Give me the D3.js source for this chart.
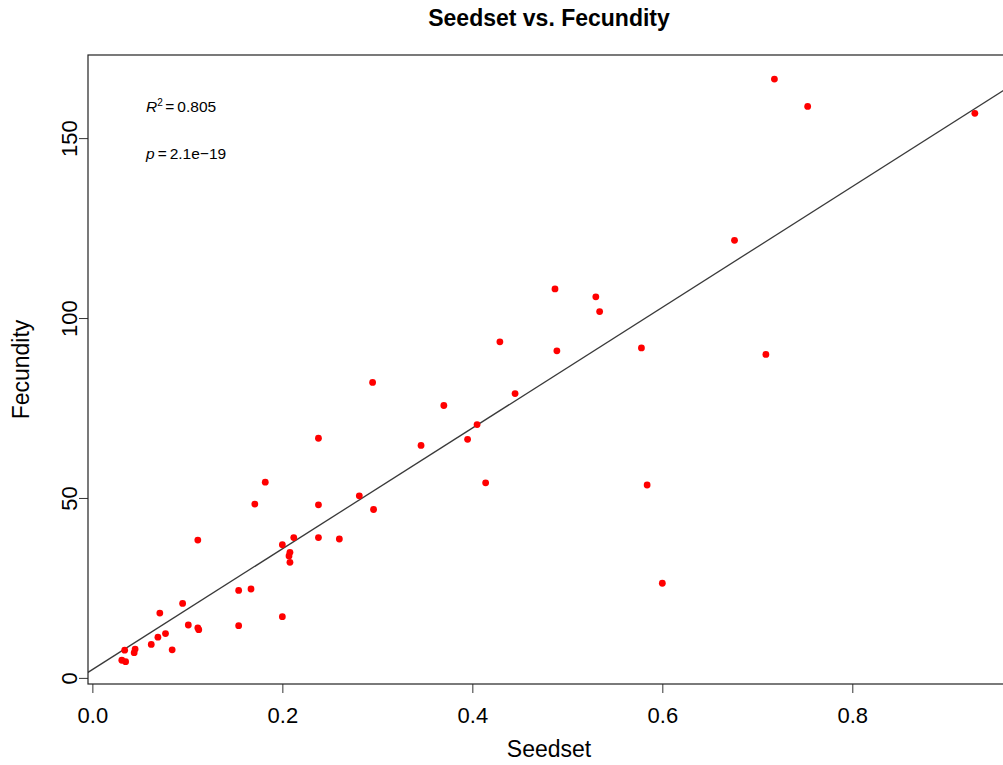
<!DOCTYPE html>
<html>
<head>
<meta charset="utf-8">
<script src="https://cdn.jsdelivr.net/npm/d3@7"></script>
<style>
  body { margin: 0; background: #fff; }
  text { font-family: "Liberation Sans", Arial, Helvetica, sans-serif; }
</style>
</head>
<body>
<div id="chart"></div>
<script>
'use strict';

// Seedset (x) and fecundity (y)
const seedset = [
  0.031, 0.035, 0.034, 0.045, 0.044, 0.062, 0.069, 0.077, 0.084, 0.071,
  0.095, 0.101, 0.111, 0.112, 0.111, 0.154, 0.154, 0.167, 0.171, 0.182,
  0.200, 0.200, 0.208, 0.207, 0.208, 0.212, 0.238, 0.238, 0.238, 0.260,
  0.281, 0.296, 0.295, 0.346, 0.370, 0.395, 0.405, 0.414, 0.429, 0.445,
  0.487, 0.489, 0.530, 0.534, 0.578, 0.584, 0.600, 0.676, 0.709, 0.718,
  0.753, 0.929
];
const fecundity = [
  4.9, 4.5, 7.7, 8.0, 7.0, 9.3, 11.3, 12.3, 7.8, 18.0,
  20.7, 14.7, 13.9, 13.4, 38.3, 14.5, 24.3, 24.7, 48.3, 54.4,
  17.0, 37.0, 34.9, 33.9, 32.1, 39.0, 48.1, 39.0, 66.6, 38.6,
  50.6, 46.8, 82.1, 64.6, 75.7, 66.3, 70.4, 54.2, 93.4, 79.0,
  108.1, 90.9, 105.9, 101.8, 91.7, 53.6, 26.3, 121.6, 89.9, 166.4,
  158.8, 156.9
];

// fitted line and plot limits
const fitIntercept = 2.3;
const fitSlope = 167.8;
const xLim = [-0.0046, 0.966];
const yLim = [-1.7, 173.1];
const xTicks = [0, 0.2, 0.4, 0.6, 0.8];
const yTicks = [0, 50, 100, 150];

const width = 1003;
const height = 765;
const plot = { left: 88, top: 55, right: 1010, bottom: 684 };

const points = seedset.map(function (s, i) {
  return { x: s, y: fecundity[i] };
});

const svg = d3.select("#chart").append("svg")
  .attr("width", width)
  .attr("height", height);

const xScale = d3.scaleLinear()
  .domain(xLim)
  .range([plot.left, plot.right]);

const yScale = d3.scaleLinear()
  .domain(yLim)
  .range([plot.bottom, plot.top]);

svg.append("clipPath")
  .attr("id", "plot-clip")
  .append("rect")
  .attr("x", plot.left)
  .attr("y", plot.top)
  .attr("width", plot.right - plot.left)
  .attr("height", plot.bottom - plot.top);

// title
svg.append("text")
  .attr("x", (plot.left + plot.right) / 2)
  .attr("y", 26)
  .attr("text-anchor", "middle")
  .style("font-size", "23px")
  .style("font-weight", "bold")
  .text("Seedset vs. Fecundity");

// axes
const xAxis = d3.axisBottom(xScale)
  .tickValues(xTicks)
  .tickFormat(d3.format(".1f"))
  .tickSize(9)
  .tickPadding(14);

const yAxis = d3.axisLeft(yScale)
  .tickValues(yTicks)
  .tickSize(9);

const gx = svg.append("g")
  .attr("transform", `translate(0, ${plot.bottom})`)
  .call(xAxis);
gx.select(".domain").remove();
gx.selectAll(".tick line").attr("stroke", "#333");
gx.selectAll(".tick text")
  .attr("fill", "#000")
  .style("font-size", "22px")
  .style("font-family", "'Liberation Sans', Arial, sans-serif");

const gy = svg.append("g")
  .attr("transform", `translate(${plot.left}, 0)`)
  .call(yAxis);
gy.select(".domain").remove();
gy.selectAll(".tick line").attr("stroke", "#333");
gy.selectAll(".tick text")
  .attr("fill", "#000")
  .attr("x", null)
  .attr("dy", null)
  .attr("text-anchor", "middle")
  .attr("transform", "translate(-11, 0) rotate(-90)")
  .style("font-size", "22px")
  .style("font-family", "'Liberation Sans', Arial, sans-serif");

// axis titles
svg.append("text")
  .attr("x", (plot.left + plot.right) / 2)
  .attr("y", 757)
  .attr("text-anchor", "middle")
  .style("font-size", "23px")
  .text("Seedset");

svg.append("text")
  .attr("transform", `translate(29, ${(plot.top + plot.bottom) / 2}) rotate(-90)`)
  .attr("text-anchor", "middle")
  .style("font-size", "23px")
  .text("Fecundity");

// regression line
svg.append("line")
  .attr("clip-path", "url(#plot-clip)")
  .attr("x1", xScale(xLim[0]))
  .attr("y1", yScale(fitIntercept + fitSlope * xLim[0]))
  .attr("x2", xScale(xLim[1]))
  .attr("y2", yScale(fitIntercept + fitSlope * xLim[1]))
  .attr("stroke", "#3a3a3a")
  .attr("stroke-width", 1.3);

// points
svg.append("g")
  .selectAll(".dot")
  .data(points)
  .enter().append("circle")
  .attr("class", "dot")
  .attr("r", 3.4)
  .attr("cx", function (d) { return xScale(d.x); })
  .attr("cy", function (d) { return yScale(d.y); })
  .style("fill", "#ff0000");

// box (right side falls outside the window)
svg.append("rect")
  .attr("x", plot.left)
  .attr("y", plot.top)
  .attr("width", plot.right - plot.left)
  .attr("height", plot.bottom - plot.top)
  .attr("fill", "none")
  .attr("stroke", "#222")
  .attr("stroke-width", 1.2);

// annotations
const r2 = svg.append("text")
  .attr("x", 146)
  .attr("y", 112)
  .style("font-size", "15.5px");
r2.append("tspan").style("font-style", "italic").text("R");
r2.append("tspan").attr("dy", -6).style("font-size", "10px").text("2");
r2.append("tspan").attr("dy", 6).attr("dx", 2.5).text("=");
r2.append("tspan").attr("dx", 3).text("0.805");

const pv = svg.append("text")
  .attr("x", 146)
  .attr("y", 159)
  .style("font-size", "15.5px");
pv.append("tspan").style("font-style", "italic").text("p");
pv.append("tspan").attr("dx", 3).text("=");
pv.append("tspan").attr("dx", 3).text("2.1e\u221219");
</script>
</body>
</html>
